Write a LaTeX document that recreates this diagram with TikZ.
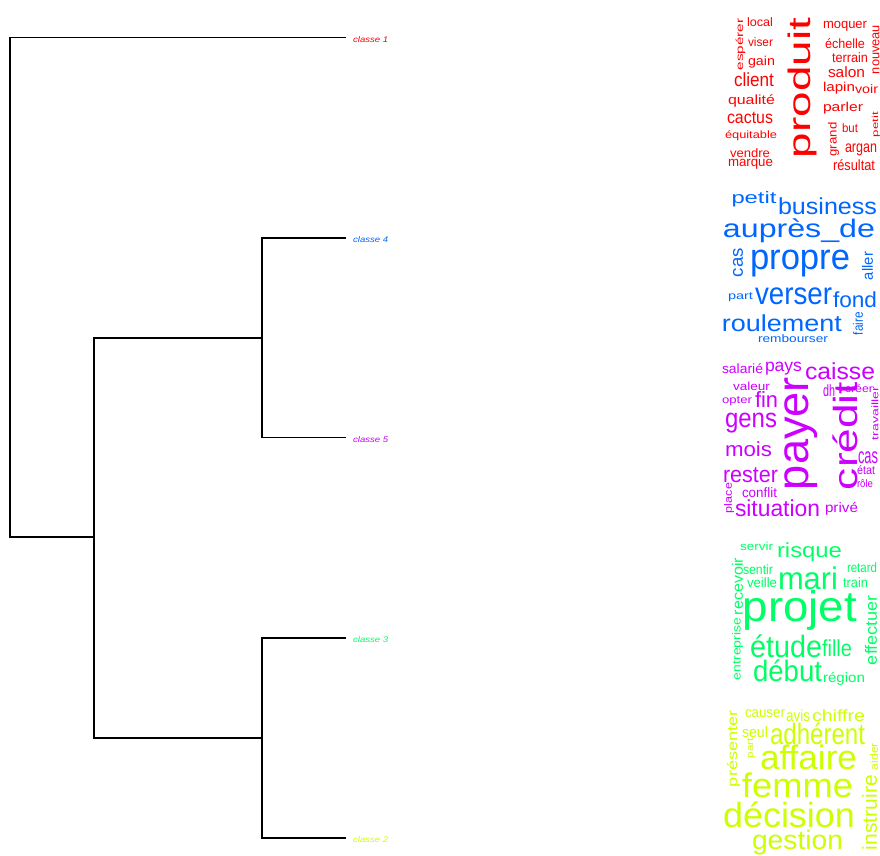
\documentclass[tikz,border=0pt]{standalone}
\usepackage{fontspec}
\setmainfont{Liberation Sans}
\usepackage{graphicx}
\usetikzlibrary{positioning}
\definecolor{cla}{HTML}{FF0000}
\definecolor{clb}{HTML}{CCFF00}
\definecolor{clc}{HTML}{00FF66}
\definecolor{cld}{HTML}{0066FF}
\definecolor{cle}{HTML}{CC00FF}
\tikzset{word/.style={inner sep=0pt, outer sep=0pt},
  vword/.style={word, rotate=90},
  lbl/.style={inner sep=0pt},
  branch/.style={line width=1.4bp, line cap=rect}}

\begin{document}
\begin{tikzpicture}[x=1bp, y=-1bp]
\useasboundingbox (0,0) rectangle (880,856);
% dendrogram
\coordinate (root) at (10,537);
\coordinate (na) at (94,537);
\coordinate (nb) at (262,338);
\coordinate (nc) at (262,738);
\foreach \n/\y in {1/37.5,4/238,5/437.5,3/638,2/838} \coordinate (l\n) at (345,\y);
\foreach \n/\c in {1/cla,4/cld,5/cle,3/clc,2/clb}
  \node (c\n) [lbl, text=\c, right=8bp of l\n, yshift=-2bp] {\resizebox*{35bp}{6bp}{\itshape classe \n}};
\draw[branch] (l1) -| (root) -- (na);
\draw[branch] (nb) -| (na) |- (nc);
\draw[branch] (l4) -| (nb) |- (l5);
\draw[branch] (l3) -| (nc) |- (l2);
% classe 1
\foreach \x/\y/\ww/\hh/\w [count=\i] in {760/22.5/26/9/local, 760.5/42.5/25/9/viser, 761.5/62.5/27/12/gain,
  754/80/40/14/client, 751.5/101/47/12.5/qualité, 750/117.5/46/11.5/cactus, 751/136/52/10/équitable,
  750/153.5/40/9/vendre, 750.5/164/45/10/marque, 845/26/44/10/moquer, 845/44/40/10/échelle,
  850/58/36/10/terrain, 846.5/72.5/37/11/salon, 839/88/32/12/lapin, 866.5/89.5/23/9/voir,
  843/108/40/12/parler, 850/128.5/16/9/but, 861/150/32/12/argan, 854/165.5/42/11/résultat}
  \node (a\i) at (\x,\y) [word, text=cla] {\resizebox*{\ww bp}{\hh bp}{\w}};
\foreach \x/\y/\ww/\hh/\w [count=\i] in {740.5/44.5/52/9.5/espérer, 802.5/88/140/29/produit,
  833.5/139.5/34/11/grand, 876/49.5/49/7/nouveau, 876/124.5/25/8/petit}
  \node (av\i) at (\x,\y) [vword, text=cla] {\resizebox*{\ww bp}{\hh bp}{\w}};
% classe 4
\foreach \x/\y/\ww/\hh/\w [count=\i] in {754/199.5/45/15.5/petit, 827.5/206.5/99/17/business,
  799/231/152/24/auprès\_de, 800/264/100/27/propre, 740.5/297.5/25/9/part, 793.5/296.5/77/17/verser,
  855/300/44/16/fond, 782/323.5/120/17/roulement, 793/339/70/8/rembourser}
  \node (d\i) at (\x,\y) [word, text=cld] {\resizebox*{\ww bp}{\hh bp}{\w}};
\foreach \x/\y/\ww/\hh/\w [count=\i] in {738/262.5/29/10/cas, 867.5/266/28/11/aller, 858/323.5/23/10/faire}
  \node (dv\i) at (\x,\y) [vword, text=cld] {\resizebox*{\ww bp}{\hh bp}{\w}};
% classe 5
\foreach \x/\y/\ww/\hh/\w [count=\i] in {742.5/369/41/10/salarié, 783.5/368.5/37/13/pays,
  840/371.5/70/17/caisse, 751.5/386/37/8.5/valeur, 737/401/30/9/opter, 766.5/399/23/16/fin,
  829/391/12/12/dh, 859/389/28/8/créer, 751/423/52/20/gens, 748.5/449.5/47/15/mois, 868/457.5/20/12/cas,
  750.5/475.5/55/15/rester, 866/470/18/9/état, 865/484/16/8/rôle, 759.5/493/35/10/conflit,
  777.5/508.5/85/17/situation, 841.5/508.5/33/13/privé}
  \node (e\i) at (\x,\y) [word, text=cle] {\resizebox*{\ww bp}{\hh bp}{\w}};
\foreach \x/\y/\ww/\hh/\w [count=\i] in {875/413.5/53/7/travailler, 801.5/433.5/113/33/payer,
  845.5/436/108/25/crédit, 729/498/30/10/place}
  \node (ev\i) at (\x,\y) [vword, text=cle] {\resizebox*{\ww bp}{\hh bp}{\w}};
% classe 3
\foreach \x/\y/\ww/\hh/\w [count=\i] in {756.5/546/33/8.5/servir, 809.5/552.5/65/19/risque,
  758/570/30/10/sentir, 762/583/30/10/veille, 808/578.5/60/23/mari, 862/568/30/10/retard,
  855.5/583/25/10/train, 800/610/114/40/projet, 786/646.5/72/23/étude, 837/648.5/30/17/fille,
  787.5/671/69/22/début, 844/678.5/42/13/région}
  \node (g\i) at (\x,\y) [word, text=clc] {\resizebox*{\ww bp}{\hh bp}{\w}};
\foreach \x/\y/\ww/\hh/\w [count=\i] in {737.5/586.5/57/11/recevoir, 737.5/649/62/11/entreprise,
  871/630/70/12/effectuer}
  \node (gv\i) at (\x,\y) [vword, text=clc] {\resizebox*{\ww bp}{\hh bp}{\w}};
% classe 2
\foreach \x/\y/\ww/\hh/\w [count=\i] in {765/714/40/8/causer, 798/716/24/12/avis, 838.5/716/53/12/chiffre,
  755/732.5/26/11/seul, 817.5/734/95/22/adhérent, 808.5/757.5/97/25/affaire, 797.5/785.5/111/25/femme,
  789/815/132/26/décision, 797.5/843/91/25/gestion}
  \node (y\i) at (\x,\y) [word, text=clb] {\resizebox*{\ww bp}{\hh bp}{\w}};
\foreach \x/\y/\ww/\hh/\w [count=\i] in {733.5/748.5/77/13/présenter, 751/748/20/8/part,
  874/756.5/27/8/aider, 869.5/812.5/75/15/instruire}
  \node (yv\i) at (\x,\y) [vword, text=clb] {\resizebox*{\ww bp}{\hh bp}{\w}};
\end{tikzpicture}
\end{document}
